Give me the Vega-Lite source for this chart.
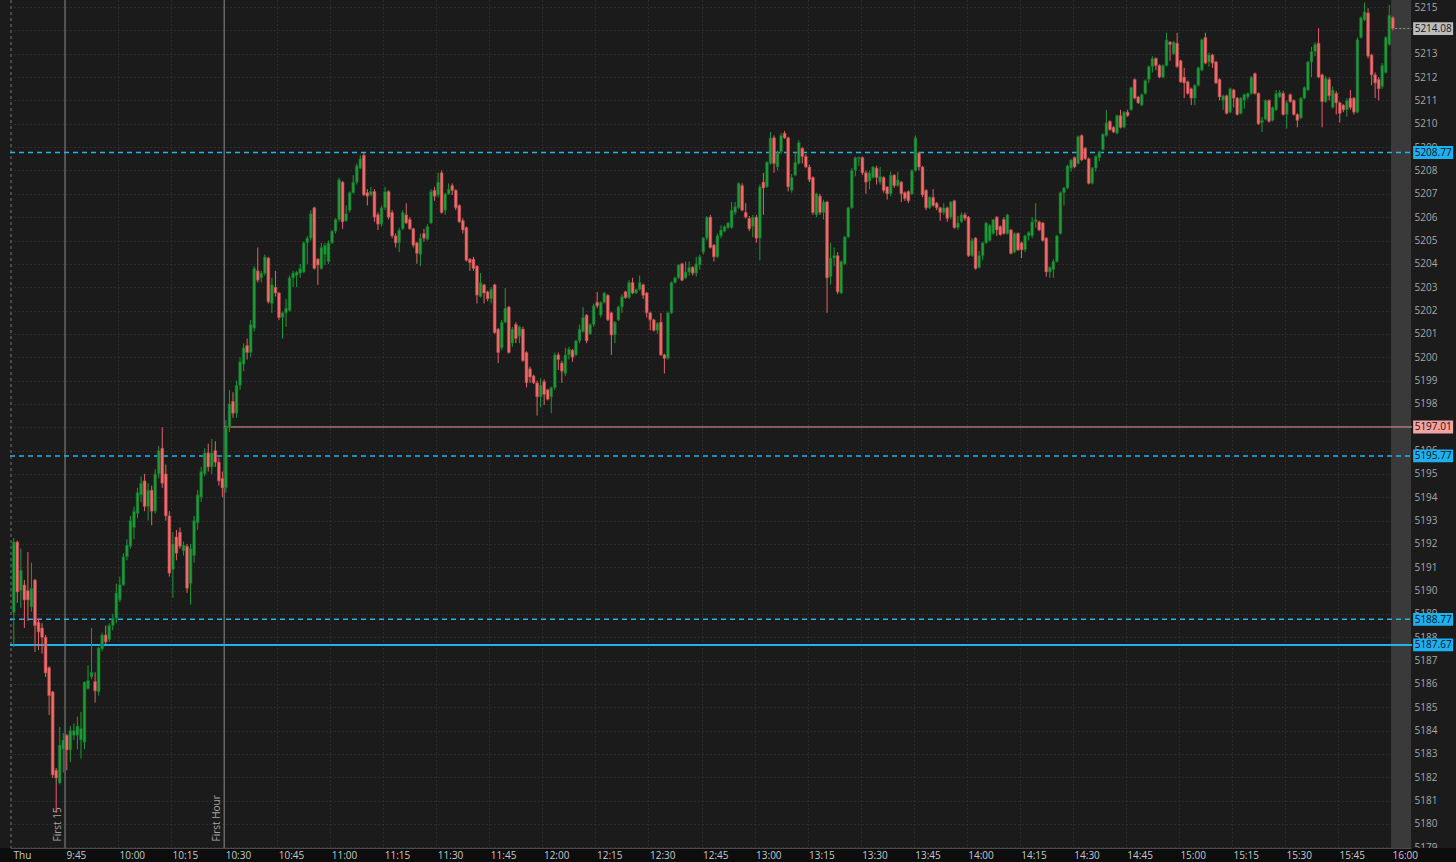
{
"$schema": "https://vega.github.io/schema/vega-lite/v6.json",
"width": 1401, "height": 848,
"autosize": {"type": "none"},
"padding": {"left": 10, "top": 0, "right": 45, "bottom": 14},
"background": "#1b1b1b",
"config": {"view": {"stroke": null, "fill": "#1b1b1b"}, "font": "Open Sans", "scale": {"continuousPadding": 0}},
"resolve": {"axis": {"x": "independent", "y": "independent"}},
"datasets": {
"levels": [
{"p": 5214.08, "kind": "last"},
{"p": 5208.77, "kind": "dash"},
{"p": 5197.01, "kind": "pivot"},
{"p": 5195.77, "kind": "dash"},
{"p": 5188.77, "kind": "dash"},
{"p": 5187.67, "kind": "solid"}
],
"marks": [{"t": 14.5, "label": "First 15"}, {"t": 59.5, "label": "First Hour"}],
"c": [
{"t":0,"o":5189.06,"h":5192.25,"l":5187.58,"c":5192.08},
{"t":1,"o":5192.08,"h":5192.15,"l":5189.47,"c":5189.94},
{"t":2,"o":5190.0,"h":5191.8,"l":5189.26,"c":5190.87},
{"t":3,"o":5190.24,"h":5190.45,"l":5188.4,"c":5189.6},
{"t":4,"o":5190.0,"h":5191.65,"l":5188.7,"c":5189.6},
{"t":5,"o":5189.3,"h":5191.2,"l":5189.1,"c":5190.1},
{"t":6,"o":5190.45,"h":5190.5,"l":5187.37,"c":5188.5},
{"t":7,"o":5188.65,"h":5188.8,"l":5187.45,"c":5188.23},
{"t":8,"o":5188.4,"h":5188.6,"l":5187.3,"c":5188.0},
{"t":9,"o":5188.0,"h":5188.1,"l":5186.3,"c":5186.47},
{"t":10,"o":5186.7,"h":5186.75,"l":5184.67,"c":5185.5},
{"t":11,"o":5185.66,"h":5185.7,"l":5181.97,"c":5182.1},
{"t":12,"o":5182.3,"h":5182.4,"l":5180.47,"c":5181.97},
{"t":13,"o":5181.76,"h":5184.16,"l":5181.7,"c":5183.38},
{"t":14,"o":5183.2,"h":5183.9,"l":5182.2,"c":5183.6},
{"t":15,"o":5183.8,"h":5183.85,"l":5182.3,"c":5183.17},
{"t":16,"o":5183.17,"h":5184.2,"l":5182.65,"c":5184.0},
{"t":17,"o":5183.8,"h":5184.3,"l":5183.6,"c":5184.0},
{"t":18,"o":5183.8,"h":5184.6,"l":5183.2,"c":5184.2},
{"t":19,"o":5183.6,"h":5184.8,"l":5182.8,"c":5184.1},
{"t":20,"o":5183.5,"h":5186.1,"l":5183.2,"c":5186.08},
{"t":21,"o":5185.8,"h":5186.8,"l":5185.75,"c":5186.15},
{"t":22,"o":5186.3,"h":5188.4,"l":5186.2,"c":5186.5},
{"t":23,"o":5186.1,"h":5186.5,"l":5185.2,"c":5185.7},
{"t":24,"o":5185.66,"h":5187.6,"l":5185.5,"c":5187.54},
{"t":25,"o":5187.5,"h":5188.2,"l":5187.4,"c":5188.1},
{"t":26,"o":5188.1,"h":5188.5,"l":5187.7,"c":5187.8},
{"t":27,"o":5187.9,"h":5188.6,"l":5187.8,"c":5188.5},
{"t":28,"o":5188.5,"h":5189.0,"l":5188.3,"c":5188.8},
{"t":29,"o":5188.8,"h":5190.3,"l":5188.6,"c":5189.9},
{"t":30,"o":5189.6,"h":5190.6,"l":5189.5,"c":5190.25},
{"t":31,"o":5190.25,"h":5191.6,"l":5190.2,"c":5191.45},
{"t":32,"o":5191.45,"h":5192.2,"l":5191.3,"c":5191.95},
{"t":33,"o":5191.9,"h":5193.2,"l":5191.8,"c":5193.0},
{"t":34,"o":5192.7,"h":5193.6,"l":5192.2,"c":5193.4},
{"t":35,"o":5193.3,"h":5194.4,"l":5193.1,"c":5194.2},
{"t":36,"o":5194.1,"h":5194.9,"l":5193.8,"c":5194.6},
{"t":37,"o":5194.7,"h":5195.0,"l":5193.4,"c":5193.6},
{"t":38,"o":5193.6,"h":5194.6,"l":5193.0,"c":5194.3},
{"t":39,"o":5194.3,"h":5194.5,"l":5192.8,"c":5193.4},
{"t":40,"o":5193.4,"h":5195.2,"l":5193.3,"c":5195.0},
{"t":41,"o":5195.0,"h":5196.2,"l":5194.8,"c":5196.0},
{"t":42,"o":5196.1,"h":5197.0,"l":5194.4,"c":5194.6},
{"t":43,"o":5195.0,"h":5195.4,"l":5193.0,"c":5193.2},
{"t":44,"o":5193.2,"h":5193.4,"l":5190.6,"c":5190.75},
{"t":45,"o":5190.9,"h":5192.5,"l":5189.7,"c":5192.0},
{"t":46,"o":5192.3,"h":5192.6,"l":5191.3,"c":5191.6},
{"t":47,"o":5192.5,"h":5192.7,"l":5191.8,"c":5191.9},
{"t":48,"o":5191.7,"h":5192.1,"l":5191.5,"c":5191.95},
{"t":49,"o":5191.9,"h":5192.0,"l":5189.9,"c":5190.1},
{"t":50,"o":5190.3,"h":5192.0,"l":5189.4,"c":5191.8},
{"t":51,"o":5191.5,"h":5193.2,"l":5191.2,"c":5193.0},
{"t":52,"o":5192.9,"h":5194.3,"l":5192.6,"c":5194.1},
{"t":53,"o":5194.0,"h":5195.3,"l":5193.8,"c":5195.1},
{"t":54,"o":5195.0,"h":5196.1,"l":5194.9,"c":5195.9},
{"t":55,"o":5195.9,"h":5196.3,"l":5195.1,"c":5195.3},
{"t":56,"o":5195.3,"h":5196.5,"l":5195.0,"c":5195.9},
{"t":57,"o":5196.0,"h":5196.4,"l":5195.3,"c":5195.5},
{"t":58,"o":5195.5,"h":5195.7,"l":5194.5,"c":5194.7},
{"t":59,"o":5194.8,"h":5195.1,"l":5194.0,"c":5194.4},
{"t":60,"o":5194.4,"h":5197.3,"l":5194.2,"c":5197.0},
{"t":61,"o":5197.0,"h":5198.6,"l":5196.8,"c":5198.0},
{"t":62,"o":5198.1,"h":5198.5,"l":5197.4,"c":5197.6},
{"t":63,"o":5197.6,"h":5199.0,"l":5197.4,"c":5198.8},
{"t":64,"o":5198.8,"h":5200.0,"l":5198.6,"c":5199.8},
{"t":65,"o":5199.7,"h":5200.6,"l":5199.4,"c":5200.4},
{"t":66,"o":5200.5,"h":5200.8,"l":5199.9,"c":5200.2},
{"t":67,"o":5200.2,"h":5201.6,"l":5200.0,"c":5201.4},
{"t":68,"o":5201.24,"h":5203.9,"l":5201.1,"c":5203.8},
{"t":69,"o":5203.7,"h":5204.7,"l":5203.2,"c":5203.3},
{"t":70,"o":5203.4,"h":5203.7,"l":5203.2,"c":5203.6},
{"t":71,"o":5203.6,"h":5204.4,"l":5203.5,"c":5204.3},
{"t":72,"o":5204.25,"h":5204.3,"l":5202.3,"c":5202.37},
{"t":73,"o":5202.3,"h":5203.4,"l":5201.9,"c":5203.1},
{"t":74,"o":5203.0,"h":5203.7,"l":5202.6,"c":5202.75},
{"t":75,"o":5202.75,"h":5202.8,"l":5201.6,"c":5201.7},
{"t":76,"o":5201.7,"h":5201.95,"l":5200.8,"c":5201.9},
{"t":77,"o":5201.9,"h":5202.5,"l":5201.3,"c":5202.1},
{"t":78,"o":5202.0,"h":5203.5,"l":5201.95,"c":5203.4},
{"t":79,"o":5203.4,"h":5203.7,"l":5203.0,"c":5203.6},
{"t":80,"o":5203.5,"h":5203.7,"l":5203.0,"c":5203.65},
{"t":81,"o":5203.6,"h":5204.0,"l":5203.4,"c":5203.8},
{"t":82,"o":5203.65,"h":5204.95,"l":5203.6,"c":5204.9},
{"t":83,"o":5204.9,"h":5205.2,"l":5204.0,"c":5205.1},
{"t":84,"o":5205.1,"h":5206.3,"l":5205.0,"c":5206.15},
{"t":85,"o":5206.4,"h":5206.45,"l":5203.75,"c":5203.8},
{"t":86,"o":5204.2,"h":5204.25,"l":5203.1,"c":5203.95},
{"t":87,"o":5203.8,"h":5204.9,"l":5203.75,"c":5204.7},
{"t":88,"o":5204.4,"h":5204.9,"l":5203.95,"c":5204.8},
{"t":89,"o":5204.1,"h":5205.0,"l":5204.0,"c":5204.9},
{"t":90,"o":5204.9,"h":5205.45,"l":5204.85,"c":5205.4},
{"t":91,"o":5205.4,"h":5205.95,"l":5205.3,"c":5205.9},
{"t":92,"o":5205.9,"h":5207.7,"l":5205.8,"c":5207.6},
{"t":93,"o":5207.5,"h":5207.55,"l":5205.5,"c":5205.8},
{"t":94,"o":5205.85,"h":5206.5,"l":5205.8,"c":5206.15},
{"t":95,"o":5206.3,"h":5207.1,"l":5206.2,"c":5207.05},
{"t":96,"o":5207.05,"h":5207.8,"l":5207.0,"c":5207.5},
{"t":97,"o":5207.5,"h":5208.3,"l":5207.4,"c":5208.2},
{"t":98,"o":5208.1,"h":5208.65,"l":5208.05,"c":5208.5},
{"t":99,"o":5208.65,"h":5208.77,"l":5206.9,"c":5206.95},
{"t":100,"o":5207.05,"h":5207.2,"l":5206.5,"c":5206.9},
{"t":101,"o":5206.95,"h":5207.3,"l":5206.9,"c":5207.1},
{"t":102,"o":5207.1,"h":5207.2,"l":5205.8,"c":5206.0},
{"t":103,"o":5206.1,"h":5206.2,"l":5205.45,"c":5205.7},
{"t":104,"o":5205.7,"h":5206.5,"l":5205.6,"c":5206.4},
{"t":105,"o":5206.4,"h":5207.3,"l":5206.3,"c":5207.1},
{"t":106,"o":5207.1,"h":5207.15,"l":5205.9,"c":5206.0},
{"t":107,"o":5206.2,"h":5206.3,"l":5205.1,"c":5205.2},
{"t":108,"o":5205.2,"h":5205.3,"l":5204.7,"c":5204.9},
{"t":109,"o":5204.9,"h":5205.55,"l":5204.5,"c":5205.45},
{"t":110,"o":5205.5,"h":5206.3,"l":5205.45,"c":5206.2},
{"t":111,"o":5206.1,"h":5206.6,"l":5205.7,"c":5205.75},
{"t":112,"o":5205.9,"h":5206.0,"l":5205.45,"c":5205.5},
{"t":113,"o":5205.5,"h":5205.55,"l":5204.7,"c":5204.8},
{"t":114,"o":5204.9,"h":5204.95,"l":5204.0,"c":5204.45},
{"t":115,"o":5204.4,"h":5205.3,"l":5203.9,"c":5205.1},
{"t":116,"o":5205.3,"h":5205.5,"l":5204.95,"c":5205.1},
{"t":117,"o":5205.05,"h":5205.7,"l":5205.0,"c":5205.6},
{"t":118,"o":5205.75,"h":5207.2,"l":5205.7,"c":5207.1},
{"t":119,"o":5207.15,"h":5207.3,"l":5206.7,"c":5206.9},
{"t":120,"o":5206.95,"h":5207.9,"l":5206.85,"c":5207.5},
{"t":121,"o":5207.9,"h":5208.0,"l":5206.15,"c":5206.2},
{"t":122,"o":5206.3,"h":5207.05,"l":5206.1,"c":5207.0},
{"t":123,"o":5207.0,"h":5207.45,"l":5206.95,"c":5207.2},
{"t":124,"o":5207.35,"h":5207.45,"l":5206.95,"c":5207.15},
{"t":125,"o":5207.15,"h":5207.2,"l":5206.3,"c":5206.4},
{"t":126,"o":5206.5,"h":5206.55,"l":5205.75,"c":5205.8},
{"t":127,"o":5205.85,"h":5205.95,"l":5205.3,"c":5205.45},
{"t":128,"o":5205.55,"h":5205.6,"l":5204.1,"c":5204.15},
{"t":129,"o":5204.2,"h":5204.25,"l":5203.7,"c":5204.05},
{"t":130,"o":5204.2,"h":5204.3,"l":5203.7,"c":5203.8},
{"t":131,"o":5203.9,"h":5203.95,"l":5202.3,"c":5202.66},
{"t":132,"o":5202.6,"h":5203.6,"l":5202.55,"c":5203.2},
{"t":133,"o":5203.1,"h":5203.15,"l":5202.3,"c":5202.75},
{"t":134,"o":5202.8,"h":5202.85,"l":5202.4,"c":5202.5},
{"t":135,"o":5202.5,"h":5203.0,"l":5202.3,"c":5202.9},
{"t":136,"o":5203.1,"h":5203.15,"l":5201.0,"c":5201.05},
{"t":137,"o":5201.2,"h":5201.25,"l":5199.75,"c":5200.2},
{"t":138,"o":5200.4,"h":5201.6,"l":5200.3,"c":5201.5},
{"t":139,"o":5201.5,"h":5202.97,"l":5201.45,"c":5202.1},
{"t":140,"o":5202.15,"h":5202.2,"l":5200.15,"c":5200.2},
{"t":141,"o":5200.6,"h":5201.3,"l":5200.45,"c":5201.2},
{"t":142,"o":5201.4,"h":5201.5,"l":5200.6,"c":5200.8},
{"t":143,"o":5200.9,"h":5201.35,"l":5200.6,"c":5201.3},
{"t":144,"o":5201.2,"h":5201.3,"l":5199.8,"c":5199.85},
{"t":145,"o":5200.2,"h":5200.25,"l":5198.7,"c":5198.9},
{"t":146,"o":5199.5,"h":5199.6,"l":5198.9,"c":5199.15},
{"t":147,"o":5199.2,"h":5199.25,"l":5198.85,"c":5198.9},
{"t":148,"o":5198.9,"h":5199.0,"l":5197.5,"c":5198.3},
{"t":149,"o":5198.3,"h":5199.1,"l":5197.85,"c":5198.8},
{"t":150,"o":5198.95,"h":5199.05,"l":5197.95,"c":5198.4},
{"t":151,"o":5198.6,"h":5198.65,"l":5198.15,"c":5198.2},
{"t":152,"o":5198.3,"h":5198.75,"l":5197.6,"c":5198.7},
{"t":153,"o":5198.7,"h":5200.2,"l":5198.6,"c":5200.1},
{"t":154,"o":5200.1,"h":5200.2,"l":5199.45,"c":5199.9},
{"t":155,"o":5199.75,"h":5199.85,"l":5198.9,"c":5199.4},
{"t":156,"o":5199.3,"h":5200.4,"l":5199.2,"c":5200.1},
{"t":157,"o":5200.1,"h":5200.45,"l":5199.9,"c":5200.35},
{"t":158,"o":5200.3,"h":5200.35,"l":5199.8,"c":5200.0},
{"t":159,"o":5200.1,"h":5200.75,"l":5200.05,"c":5200.7},
{"t":160,"o":5200.7,"h":5201.4,"l":5200.6,"c":5201.2},
{"t":161,"o":5201.1,"h":5202.15,"l":5201.05,"c":5201.7},
{"t":162,"o":5201.8,"h":5201.85,"l":5200.6,"c":5200.7},
{"t":163,"o":5201.0,"h":5201.45,"l":5200.95,"c":5201.4},
{"t":164,"o":5201.4,"h":5202.3,"l":5201.3,"c":5202.2},
{"t":165,"o":5202.35,"h":5202.8,"l":5202.1,"c":5202.2},
{"t":166,"o":5201.8,"h":5202.4,"l":5201.7,"c":5202.35},
{"t":167,"o":5202.35,"h":5202.8,"l":5202.3,"c":5202.75},
{"t":168,"o":5202.65,"h":5202.7,"l":5201.55,"c":5201.6},
{"t":169,"o":5201.9,"h":5201.95,"l":5200.1,"c":5200.95},
{"t":170,"o":5200.95,"h":5201.55,"l":5200.6,"c":5201.5},
{"t":171,"o":5201.6,"h":5202.2,"l":5201.55,"c":5202.15},
{"t":172,"o":5202.15,"h":5202.7,"l":5201.9,"c":5202.6},
{"t":173,"o":5202.8,"h":5202.85,"l":5202.5,"c":5202.55},
{"t":174,"o":5202.55,"h":5203.3,"l":5202.5,"c":5203.2},
{"t":175,"o":5203.2,"h":5203.4,"l":5202.7,"c":5202.75},
{"t":176,"o":5202.75,"h":5202.95,"l":5202.7,"c":5202.9},
{"t":177,"o":5202.9,"h":5203.5,"l":5202.85,"c":5203.2},
{"t":178,"o":5203.1,"h":5203.15,"l":5202.5,"c":5202.65},
{"t":179,"o":5202.75,"h":5202.8,"l":5201.7,"c":5201.9},
{"t":180,"o":5201.9,"h":5201.95,"l":5201.15,"c":5201.6},
{"t":181,"o":5201.6,"h":5201.65,"l":5201.1,"c":5201.15},
{"t":182,"o":5201.15,"h":5201.5,"l":5201.0,"c":5201.45},
{"t":183,"o":5201.5,"h":5201.9,"l":5200.05,"c":5200.1},
{"t":184,"o":5200.1,"h":5200.15,"l":5199.3,"c":5199.95},
{"t":185,"o":5199.95,"h":5201.95,"l":5199.9,"c":5201.9},
{"t":186,"o":5201.9,"h":5203.25,"l":5201.85,"c":5203.2},
{"t":187,"o":5203.2,"h":5203.45,"l":5203.15,"c":5203.4},
{"t":188,"o":5203.4,"h":5204.0,"l":5203.35,"c":5203.95},
{"t":189,"o":5204.0,"h":5204.05,"l":5203.25,"c":5203.3},
{"t":190,"o":5203.4,"h":5204.1,"l":5203.35,"c":5203.65},
{"t":191,"o":5203.65,"h":5204.1,"l":5203.5,"c":5203.85},
{"t":192,"o":5203.85,"h":5203.9,"l":5203.5,"c":5203.6},
{"t":193,"o":5203.6,"h":5204.3,"l":5203.45,"c":5204.0},
{"t":194,"o":5203.95,"h":5204.4,"l":5203.75,"c":5204.3},
{"t":195,"o":5204.5,"h":5205.15,"l":5204.4,"c":5205.1},
{"t":196,"o":5205.1,"h":5206.05,"l":5205.0,"c":5206.0},
{"t":197,"o":5206.0,"h":5206.1,"l":5204.65,"c":5204.7},
{"t":198,"o":5204.8,"h":5204.85,"l":5204.1,"c":5204.3},
{"t":199,"o":5204.3,"h":5205.3,"l":5204.25,"c":5205.2},
{"t":200,"o":5205.2,"h":5205.65,"l":5205.1,"c":5205.45},
{"t":201,"o":5205.4,"h":5205.65,"l":5205.35,"c":5205.6},
{"t":202,"o":5205.55,"h":5205.8,"l":5205.5,"c":5205.75},
{"t":203,"o":5205.55,"h":5206.65,"l":5205.5,"c":5206.3},
{"t":204,"o":5206.2,"h":5206.65,"l":5206.1,"c":5206.45},
{"t":205,"o":5206.4,"h":5207.5,"l":5206.35,"c":5207.45},
{"t":206,"o":5207.35,"h":5207.45,"l":5206.25,"c":5206.3},
{"t":207,"o":5206.2,"h":5206.6,"l":5205.95,"c":5206.0},
{"t":208,"o":5205.95,"h":5206.05,"l":5205.4,"c":5205.5},
{"t":209,"o":5205.6,"h":5206.1,"l":5205.15,"c":5206.0},
{"t":210,"o":5206.0,"h":5206.1,"l":5204.9,"c":5205.1},
{"t":211,"o":5205.1,"h":5207.4,"l":5204.15,"c":5207.3},
{"t":212,"o":5207.5,"h":5207.9,"l":5206.1,"c":5207.25},
{"t":213,"o":5207.3,"h":5208.4,"l":5207.25,"c":5208.35},
{"t":214,"o":5208.3,"h":5209.65,"l":5208.25,"c":5209.4},
{"t":215,"o":5209.4,"h":5209.5,"l":5207.9,"c":5208.3},
{"t":216,"o":5208.15,"h":5208.85,"l":5208.0,"c":5208.75},
{"t":217,"o":5208.8,"h":5209.6,"l":5208.7,"c":5209.5},
{"t":218,"o":5209.6,"h":5209.7,"l":5209.35,"c":5209.4},
{"t":219,"o":5209.4,"h":5209.45,"l":5207.1,"c":5207.3},
{"t":220,"o":5207.15,"h":5207.85,"l":5207.05,"c":5207.7},
{"t":221,"o":5207.8,"h":5208.8,"l":5207.75,"c":5208.35},
{"t":222,"o":5208.3,"h":5209.3,"l":5208.25,"c":5209.2},
{"t":223,"o":5208.95,"h":5209.0,"l":5208.3,"c":5208.6},
{"t":224,"o":5208.6,"h":5208.7,"l":5208.1,"c":5208.15},
{"t":225,"o":5208.15,"h":5208.25,"l":5207.5,"c":5207.6},
{"t":226,"o":5207.7,"h":5207.75,"l":5206.1,"c":5206.2},
{"t":227,"o":5206.1,"h":5207.05,"l":5206.0,"c":5207.0},
{"t":228,"o":5206.9,"h":5207.0,"l":5206.1,"c":5206.2},
{"t":229,"o":5206.2,"h":5206.75,"l":5205.9,"c":5206.65},
{"t":230,"o":5206.65,"h":5206.7,"l":5201.9,"c":5203.4},
{"t":231,"o":5203.45,"h":5204.9,"l":5203.1,"c":5204.25},
{"t":232,"o":5204.25,"h":5204.7,"l":5203.9,"c":5204.35},
{"t":233,"o":5204.35,"h":5204.5,"l":5202.7,"c":5202.8},
{"t":234,"o":5202.75,"h":5204.15,"l":5202.7,"c":5204.1},
{"t":235,"o":5204.0,"h":5205.2,"l":5203.95,"c":5205.15},
{"t":236,"o":5205.15,"h":5206.45,"l":5205.1,"c":5206.4},
{"t":237,"o":5206.4,"h":5208.1,"l":5206.35,"c":5208.0},
{"t":238,"o":5208.0,"h":5208.6,"l":5207.75,"c":5208.55},
{"t":239,"o":5208.5,"h":5208.6,"l":5208.2,"c":5208.55},
{"t":240,"o":5208.55,"h":5208.6,"l":5207.8,"c":5207.9},
{"t":241,"o":5207.9,"h":5208.0,"l":5207.0,"c":5207.5},
{"t":242,"o":5207.55,"h":5208.0,"l":5207.2,"c":5207.9},
{"t":243,"o":5207.7,"h":5208.2,"l":5207.65,"c":5208.15},
{"t":244,"o":5208.1,"h":5208.2,"l":5207.4,"c":5207.7},
{"t":245,"o":5207.5,"h":5208.15,"l":5207.4,"c":5207.75},
{"t":246,"o":5207.7,"h":5207.75,"l":5207.05,"c":5207.15},
{"t":247,"o":5207.3,"h":5207.3,"l":5206.75,"c":5207.0},
{"t":248,"o":5207.0,"h":5207.95,"l":5206.9,"c":5207.8},
{"t":249,"o":5207.8,"h":5207.85,"l":5207.25,"c":5207.35},
{"t":250,"o":5207.35,"h":5207.95,"l":5207.3,"c":5207.6},
{"t":251,"o":5207.5,"h":5207.55,"l":5206.65,"c":5207.0},
{"t":252,"o":5207.05,"h":5207.1,"l":5206.7,"c":5206.8},
{"t":253,"o":5207.1,"h":5207.15,"l":5206.6,"c":5206.7},
{"t":254,"o":5207.0,"h":5208.05,"l":5206.95,"c":5208.0},
{"t":255,"o":5208.0,"h":5209.5,"l":5207.95,"c":5209.4},
{"t":256,"o":5208.75,"h":5208.8,"l":5208.0,"c":5208.15},
{"t":257,"o":5208.15,"h":5208.2,"l":5206.85,"c":5206.95},
{"t":258,"o":5207.15,"h":5207.2,"l":5206.3,"c":5206.4},
{"t":259,"o":5206.4,"h":5206.9,"l":5206.35,"c":5206.85},
{"t":260,"o":5206.85,"h":5207.2,"l":5206.45,"c":5206.5},
{"t":261,"o":5206.6,"h":5206.65,"l":5206.3,"c":5206.4},
{"t":262,"o":5206.4,"h":5206.45,"l":5205.85,"c":5206.2},
{"t":263,"o":5206.2,"h":5206.6,"l":5206.1,"c":5206.4},
{"t":264,"o":5206.4,"h":5206.45,"l":5205.8,"c":5205.95},
{"t":265,"o":5206.0,"h":5206.7,"l":5205.9,"c":5206.65},
{"t":266,"o":5206.7,"h":5206.75,"l":5205.5,"c":5205.55},
{"t":267,"o":5205.55,"h":5206.05,"l":5205.45,"c":5205.75},
{"t":268,"o":5205.8,"h":5206.2,"l":5205.75,"c":5206.1},
{"t":269,"o":5206.1,"h":5206.2,"l":5205.85,"c":5205.95},
{"t":270,"o":5206.0,"h":5206.05,"l":5204.3,"c":5204.35},
{"t":271,"o":5204.35,"h":5205.1,"l":5204.3,"c":5205.0},
{"t":272,"o":5205.1,"h":5205.15,"l":5203.75,"c":5203.8},
{"t":273,"o":5203.85,"h":5204.55,"l":5203.8,"c":5204.35},
{"t":274,"o":5204.35,"h":5204.95,"l":5204.15,"c":5204.9},
{"t":275,"o":5204.9,"h":5205.8,"l":5204.85,"c":5205.75},
{"t":276,"o":5205.0,"h":5205.7,"l":5204.95,"c":5205.65},
{"t":277,"o":5205.3,"h":5205.9,"l":5205.25,"c":5205.9},
{"t":278,"o":5206.0,"h":5206.05,"l":5205.2,"c":5205.45},
{"t":279,"o":5205.6,"h":5205.65,"l":5205.2,"c":5205.25},
{"t":280,"o":5205.9,"h":5206.0,"l":5205.25,"c":5205.3},
{"t":281,"o":5205.3,"h":5206.15,"l":5205.25,"c":5206.1},
{"t":282,"o":5205.45,"h":5205.5,"l":5204.4,"c":5204.45},
{"t":283,"o":5204.5,"h":5205.35,"l":5204.45,"c":5205.3},
{"t":284,"o":5205.3,"h":5205.35,"l":5204.55,"c":5204.6},
{"t":285,"o":5204.9,"h":5204.95,"l":5204.25,"c":5204.6},
{"t":286,"o":5204.6,"h":5205.25,"l":5204.5,"c":5205.2},
{"t":287,"o":5205.2,"h":5205.4,"l":5205.0,"c":5205.35},
{"t":288,"o":5205.2,"h":5206.0,"l":5205.1,"c":5205.8},
{"t":289,"o":5205.8,"h":5206.6,"l":5205.55,"c":5205.9},
{"t":290,"o":5205.8,"h":5205.85,"l":5205.4,"c":5205.45},
{"t":291,"o":5205.75,"h":5205.8,"l":5204.95,"c":5205.0},
{"t":292,"o":5205.1,"h":5205.15,"l":5203.45,"c":5203.65},
{"t":293,"o":5203.65,"h":5203.9,"l":5203.4,"c":5203.85},
{"t":294,"o":5203.75,"h":5204.2,"l":5203.4,"c":5204.1},
{"t":295,"o":5204.1,"h":5205.25,"l":5204.05,"c":5205.2},
{"t":296,"o":5205.3,"h":5207.1,"l":5205.25,"c":5207.05},
{"t":297,"o":5207.05,"h":5207.3,"l":5206.5,"c":5207.25},
{"t":298,"o":5207.25,"h":5208.25,"l":5207.2,"c":5208.2},
{"t":299,"o":5208.1,"h":5208.5,"l":5207.95,"c":5208.45},
{"t":300,"o":5208.55,"h":5208.6,"l":5208.1,"c":5208.15},
{"t":301,"o":5208.3,"h":5209.5,"l":5208.25,"c":5209.45},
{"t":302,"o":5209.5,"h":5209.55,"l":5208.4,"c":5208.45},
{"t":303,"o":5208.95,"h":5209.0,"l":5208.45,"c":5208.5},
{"t":304,"o":5208.5,"h":5208.55,"l":5207.4,"c":5207.45},
{"t":305,"o":5207.45,"h":5208.15,"l":5207.4,"c":5208.1},
{"t":306,"o":5208.1,"h":5208.65,"l":5207.95,"c":5208.6},
{"t":307,"o":5208.55,"h":5208.85,"l":5208.4,"c":5208.8},
{"t":308,"o":5208.9,"h":5209.6,"l":5208.85,"c":5209.55},
{"t":309,"o":5209.5,"h":5210.6,"l":5209.45,"c":5210.05},
{"t":310,"o":5210.1,"h":5210.15,"l":5209.7,"c":5209.75},
{"t":311,"o":5209.85,"h":5209.9,"l":5209.6,"c":5209.65},
{"t":312,"o":5209.6,"h":5210.4,"l":5209.55,"c":5210.35},
{"t":313,"o":5210.35,"h":5210.6,"l":5209.8,"c":5209.85},
{"t":314,"o":5209.85,"h":5210.55,"l":5209.8,"c":5210.5},
{"t":315,"o":5210.5,"h":5210.6,"l":5210.3,"c":5210.35},
{"t":316,"o":5210.6,"h":5211.6,"l":5210.55,"c":5211.55},
{"t":317,"o":5211.9,"h":5211.95,"l":5211.05,"c":5211.1},
{"t":318,"o":5211.15,"h":5211.2,"l":5210.85,"c":5210.9},
{"t":319,"o":5210.8,"h":5211.3,"l":5210.75,"c":5211.25},
{"t":320,"o":5211.3,"h":5211.9,"l":5211.25,"c":5211.85},
{"t":321,"o":5211.9,"h":5212.5,"l":5211.75,"c":5212.45},
{"t":322,"o":5212.45,"h":5212.9,"l":5212.2,"c":5212.8},
{"t":323,"o":5212.8,"h":5212.85,"l":5212.3,"c":5212.5},
{"t":324,"o":5212.5,"h":5212.55,"l":5211.95,"c":5212.0},
{"t":325,"o":5212.0,"h":5212.55,"l":5211.95,"c":5212.5},
{"t":326,"o":5212.5,"h":5213.9,"l":5212.45,"c":5213.6},
{"t":327,"o":5213.5,"h":5213.55,"l":5212.7,"c":5213.4},
{"t":328,"o":5213.0,"h":5213.55,"l":5212.95,"c":5213.5},
{"t":329,"o":5213.45,"h":5213.9,"l":5212.4,"c":5212.45},
{"t":330,"o":5212.7,"h":5212.75,"l":5211.75,"c":5211.8},
{"t":331,"o":5212.0,"h":5212.4,"l":5211.1,"c":5211.75},
{"t":332,"o":5211.8,"h":5211.85,"l":5211.25,"c":5211.3},
{"t":333,"o":5211.5,"h":5211.55,"l":5210.8,"c":5211.1},
{"t":334,"o":5211.1,"h":5211.7,"l":5210.8,"c":5211.65},
{"t":335,"o":5211.65,"h":5212.45,"l":5211.6,"c":5212.4},
{"t":336,"o":5212.3,"h":5213.65,"l":5212.25,"c":5213.6},
{"t":337,"o":5213.7,"h":5213.9,"l":5212.55,"c":5212.6},
{"t":338,"o":5212.65,"h":5213.05,"l":5212.45,"c":5212.95},
{"t":339,"o":5212.95,"h":5213.0,"l":5212.4,"c":5212.6},
{"t":340,"o":5212.65,"h":5212.7,"l":5211.7,"c":5211.75},
{"t":341,"o":5211.9,"h":5211.95,"l":5211.0,"c":5211.15},
{"t":342,"o":5211.0,"h":5211.25,"l":5210.6,"c":5211.2},
{"t":343,"o":5211.2,"h":5211.25,"l":5210.4,"c":5210.45},
{"t":344,"o":5210.5,"h":5211.55,"l":5210.45,"c":5211.5},
{"t":345,"o":5211.45,"h":5211.5,"l":5210.7,"c":5211.1},
{"t":346,"o":5211.1,"h":5211.15,"l":5210.35,"c":5210.4},
{"t":347,"o":5210.45,"h":5211.15,"l":5210.4,"c":5211.1},
{"t":348,"o":5211.0,"h":5211.3,"l":5210.65,"c":5211.25},
{"t":349,"o":5211.15,"h":5211.35,"l":5211.05,"c":5211.3},
{"t":350,"o":5211.3,"h":5212.05,"l":5211.25,"c":5212.0},
{"t":351,"o":5212.15,"h":5212.2,"l":5211.25,"c":5211.3},
{"t":352,"o":5211.3,"h":5211.35,"l":5209.95,"c":5210.0},
{"t":353,"o":5210.05,"h":5210.3,"l":5209.65,"c":5210.15},
{"t":354,"o":5210.2,"h":5211.05,"l":5210.15,"c":5211.0},
{"t":355,"o":5211.0,"h":5211.05,"l":5210.05,"c":5210.1},
{"t":356,"o":5210.15,"h":5210.75,"l":5210.1,"c":5210.7},
{"t":357,"o":5210.6,"h":5211.45,"l":5210.55,"c":5211.3},
{"t":358,"o":5211.15,"h":5211.45,"l":5211.1,"c":5211.35},
{"t":359,"o":5211.3,"h":5211.4,"l":5210.35,"c":5210.4},
{"t":360,"o":5210.4,"h":5211.0,"l":5209.8,"c":5210.9},
{"t":361,"o":5211.25,"h":5211.3,"l":5210.9,"c":5210.95},
{"t":362,"o":5211.0,"h":5211.05,"l":5210.35,"c":5210.4},
{"t":363,"o":5210.4,"h":5210.45,"l":5209.85,"c":5210.15},
{"t":364,"o":5210.25,"h":5211.15,"l":5210.2,"c":5211.1},
{"t":365,"o":5211.1,"h":5211.6,"l":5211.05,"c":5211.55},
{"t":366,"o":5211.45,"h":5212.7,"l":5211.4,"c":5212.65},
{"t":367,"o":5212.65,"h":5213.3,"l":5212.0,"c":5213.1},
{"t":368,"o":5213.1,"h":5213.5,"l":5212.9,"c":5213.4},
{"t":369,"o":5213.45,"h":5214.1,"l":5211.95,"c":5212.0},
{"t":370,"o":5212.1,"h":5212.15,"l":5209.85,"c":5210.95},
{"t":371,"o":5210.95,"h":5212.05,"l":5210.9,"c":5211.95},
{"t":372,"o":5211.9,"h":5212.0,"l":5211.0,"c":5211.2},
{"t":373,"o":5210.7,"h":5211.6,"l":5210.65,"c":5211.45},
{"t":374,"o":5211.3,"h":5211.4,"l":5210.4,"c":5210.9},
{"t":375,"o":5210.9,"h":5210.95,"l":5210.05,"c":5210.45},
{"t":376,"o":5210.8,"h":5210.85,"l":5210.5,"c":5210.6},
{"t":377,"o":5210.6,"h":5211.1,"l":5210.3,"c":5211.0},
{"t":378,"o":5211.1,"h":5211.45,"l":5210.6,"c":5210.7},
{"t":379,"o":5211.1,"h":5211.15,"l":5210.4,"c":5210.5},
{"t":380,"o":5210.5,"h":5213.7,"l":5210.45,"c":5213.6},
{"t":381,"o":5213.7,"h":5214.6,"l":5213.65,"c":5214.55},
{"t":382,"o":5214.45,"h":5215.2,"l":5214.4,"c":5214.8},
{"t":383,"o":5214.75,"h":5214.95,"l":5212.8,"c":5212.9},
{"t":384,"o":5212.95,"h":5213.0,"l":5211.65,"c":5212.1},
{"t":385,"o":5212.1,"h":5212.2,"l":5211.1,"c":5211.75},
{"t":386,"o":5211.9,"h":5212.0,"l":5211.0,"c":5211.5},
{"t":387,"o":5211.6,"h":5212.6,"l":5211.5,"c":5212.5},
{"t":388,"o":5212.2,"h":5213.75,"l":5212.15,"c":5213.7},
{"t":389,"o":5213.4,"h":5215.1,"l":5213.35,"c":5214.65},
{"t":390,"o":5214.55,"h":5214.6,"l":5214.0,"c":5214.08}
]
},
"layer": [
{
"data": {"values": [{}]},
"mark": {"type": "rect", "color": "#3a3a3a"},
"encoding": {
"x": {"datum": 389.5, "type": "quantitative",
"scale": {"domain": [-1.066, 395.14], "nice": false, "zero": false, "padding": 0},
"axis": {"orient": "bottom", "grid": true, "gridColor": "#3e3e3e", "gridDash": [1, 3], "gridWidth": 1,
"values": [29.5, 44.5, 74.5, 89.5, 104.5, 119.5, 134.5, 149.5, 164.5, 179.5, 194.5, 209.5, 224.5, 239.5, 254.5, 269.5, 284.5, 299.5, 314.5, 329.5, 344.5, 359.5, 374.5],
"labels": false, "ticks": false, "domain": false, "title": null, "zindex": 0}},
"x2": {"datum": 395.14},
"y": {"datum": 5215.305, "type": "quantitative",
"scale": {"domain": [5178.97, 5215.305], "nice": false, "zero": false, "padding": 0},
"axis": {"orient": "right", "grid": true, "gridColor": "#3e3e3e", "gridDash": [1, 3], "gridWidth": 1,
"values": [5179,5180,5181,5182,5183,5184,5185,5186,5187,5188,5189,5190,5191,5192,5193,5194,5195,5196,5197,5198,5199,5200,5201,5202,5203,5204,5205,5206,5207,5208,5209,5210,5211,5212,5213,5214,5215],
"format": "d", "labels": true, "labelColor": "#a8a8a8", "labelFont": "Open Sans", "labelFontSize": 10,
"labelPadding": 3, "labelFlush": false, "labelOverlap": false, "labelBaseline": "middle",
"ticks": false, "domain": false, "title": null, "zindex": 0}},
"y2": {"datum": 5178.97}
}
},
{
"data": {"values": [{}]},
"mark": {"type": "rect", "color": "#0d0d0d"},
"encoding": {
"x": {"datum": -3.9, "type": "quantitative",
"axis": {"orient": "bottom", "grid": false, "ticks": false, "domain": true, "domainColor": "#4a4a4a", "domainWidth": 1,
"values": [-0.5, 14.5, 29.5, 44.5, 59.5, 74.5, 89.5, 104.5, 119.5, 134.5, 149.5, 164.5, 179.5, 194.5, 209.5, 224.5, 239.5, 254.5, 269.5, 284.5, 299.5, 314.5, 329.5, 344.5, 359.5, 374.5, 389.5],
"labelExpr": "datum.value < 0 ? 'Thu' : floor((570.5 + datum.value) / 60) + ':' + (((570.5 + datum.value) % 60) < 10 ? '0' : '') + ((570.5 + datum.value) % 60)",
"labelAlign": "left", "labelBaseline": "top", "labelPadding": 2, "labelOffset": 1,
"labelColor": "#c8c8c8", "labelFont": "Open Sans", "labelFontSize": 10,
"labelFlush": false, "labelOverlap": false, "title": null, "zindex": 1}},
"x2": {"datum": 411.5},
"y": {"datum": 5178.97, "type": "quantitative", "axis": null},
"y2": {"datum": 5178.3}
}
},
{
"data": {"values": [{}]},
"mark": {"type": "rule", "color": "#5a5a5a", "strokeDash": [3, 3], "strokeWidth": 1.5},
"encoding": {"x": {"datum": -0.78, "type": "quantitative", "axis": null}}
},
{
"data": {"name": "marks"},
"mark": {"type": "rule", "color": "#8e8e8e", "strokeWidth": 1},
"encoding": {"x": {"field": "t", "type": "quantitative", "axis": null}}
},
{
"data": {"name": "marks"},
"mark": {"type": "text", "angle": 270, "align": "left", "baseline": "bottom", "dy": -2, "fontSize": 10, "font": "Open Sans", "color": "#a6a6a6"},
"encoding": {
"x": {"field": "t", "type": "quantitative", "axis": null},
"y": {"datum": 5179.25, "type": "quantitative", "axis": null},
"text": {"field": "label"}
}
},
{
"data": {"name": "levels"},
"transform": [{"filter": "datum.kind == 'dash'"}],
"mark": {"type": "rule", "color": "#22b2f0", "strokeWidth": 1.5, "strokeDash": [5, 4]},
"encoding": {
"x": {"datum": -1.066, "type": "quantitative", "axis": null},
"x2": {"datum": 395.4},
"y": {"field": "p", "type": "quantitative", "axis": null}
}
},
{
"data": {"name": "levels"},
"transform": [{"filter": "datum.kind == 'solid'"}],
"mark": {"type": "rule", "color": "#22b2f0", "strokeWidth": 2},
"encoding": {
"x": {"datum": -1.066, "type": "quantitative", "axis": null},
"x2": {"datum": 395.4},
"y": {"field": "p", "type": "quantitative", "axis": null}
}
},
{
"data": {"name": "levels"},
"transform": [{"filter": "datum.kind == 'pivot'"}],
"mark": {"type": "rule", "color": "#f09a9a", "strokeWidth": 1},
"encoding": {
"x": {"datum": 59.5, "type": "quantitative", "axis": null},
"x2": {"datum": 395.4},
"y": {"field": "p", "type": "quantitative", "axis": null}
}
},
{
"data": {"name": "levels"},
"transform": [{"filter": "datum.kind == 'last'"}],
"mark": {"type": "rule", "color": "#9a9a9a", "strokeWidth": 1, "strokeDash": [2, 2]},
"encoding": {
"x": {"datum": 390.7, "type": "quantitative", "axis": null},
"x2": {"datum": 395.4},
"y": {"field": "p", "type": "quantitative", "axis": null}
}
},
{
"data": {"name": "c"},
"mark": {"type": "rule", "strokeWidth": 1},
"encoding": {
"x": {"field": "t", "type": "quantitative", "axis": null},
"y": {"field": "l", "type": "quantitative", "axis": null},
"y2": {"field": "h"},
"color": {"condition": {"test": "datum.c >= datum.o", "value": "#1e9a36"}, "value": "#e66262"}
}
},
{
"data": {"name": "c"},
"mark": {"type": "bar", "size": 2.8, "strokeWidth": 0.6},
"encoding": {
"x": {"field": "t", "type": "quantitative", "axis": null},
"y": {"field": "o", "type": "quantitative", "axis": null},
"y2": {"field": "c"},
"fill": {"condition": {"test": "datum.c >= datum.o", "value": "#1f9c37"}, "value": "#f26c6c"},
"stroke": {"condition": {"test": "datum.c >= datum.o", "value": "#12652a"}, "value": "#b24a4a"}
}
},
{
"data": {"name": "levels"},
"mark": {"type": "point", "filled": true, "opacity": 1, "shape": "M-1,-0.32L1,-0.32L1,0.32L-1,0.32Z", "size": 1600},
"encoding": {
"x": {"datum": 401.4, "type": "quantitative", "axis": null},
"y": {"field": "p", "type": "quantitative", "axis": null},
"fill": {"field": "kind", "type": "nominal", "legend": null,
"scale": {"domain": ["last", "dash", "pivot", "solid"], "range": ["#bcbcbc", "#1fb0f0", "#f4a3a3", "#1fb0f0"]}}
}
},
{
"data": {"name": "levels"},
"mark": {"type": "text", "align": "center", "baseline": "middle", "dy": 0.5, "fontSize": 10, "font": "Open Sans"},
"encoding": {
"x": {"datum": 401.4, "type": "quantitative", "axis": null},
"y": {"field": "p", "type": "quantitative", "axis": null},
"text": {"field": "p", "type": "quantitative", "format": ".2f"},
"color": {"field": "kind", "type": "nominal", "legend": null,
"scale": {"domain": ["last", "dash", "pivot", "solid"], "range": ["#161616", "#07131d", "#2b0c0c", "#07131d"]}}
}
}
]
}
